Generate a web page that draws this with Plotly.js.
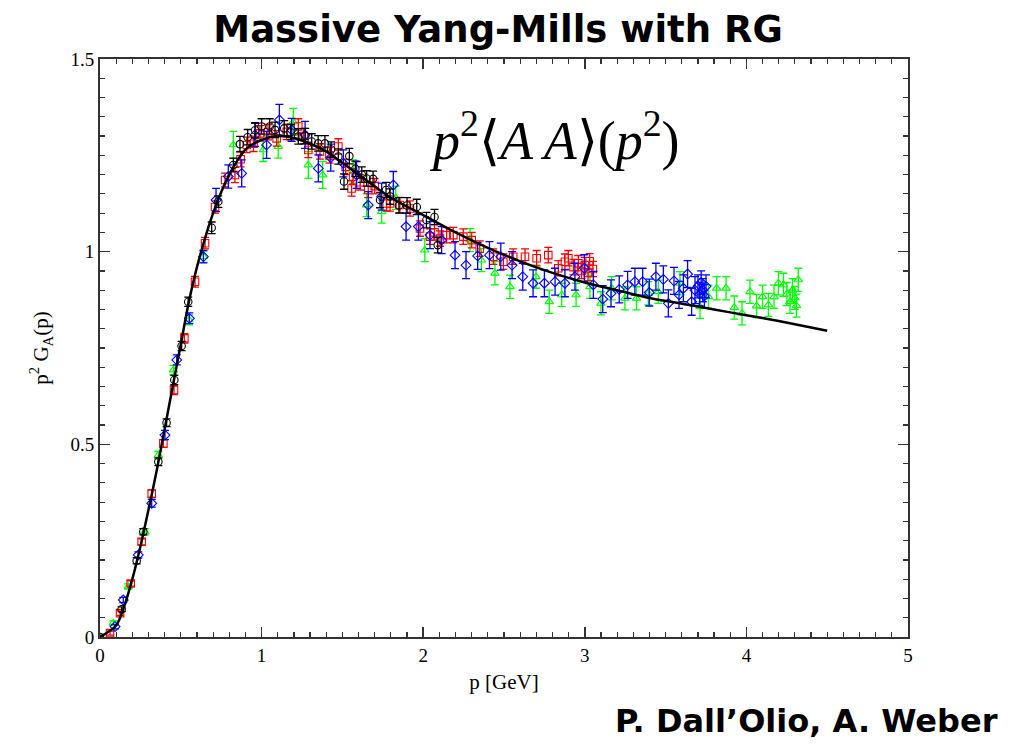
<!DOCTYPE html>
<html>
<head>
<meta charset="utf-8">
<script src="https://cdn.plot.ly/plotly-3.0.1.min.js"></script>
<style>html,body{margin:0;padding:0;background:#fff;}#chart{width:1027px;height:744px;}</style>
</head>
<body>
<div id="chart"></div>
<script>
// Black circles
const blackX = [0.0,0.134,0.227,0.268,0.361,0.412,0.46,0.505,0.546,0.691,0.732,0.825,0.866,0.914,0.96,1.0,1.05,1.083,1.14,1.18,1.227,1.27,1.31,1.35,1.392,1.43,1.475,1.51,1.543,1.58,1.62,1.65,1.69,1.733,1.77,1.795,1.85,1.9,1.96,2.02,2.07,2.09];
const blackY = [0.0,0.072,0.198,0.273,0.455,0.556,0.667,0.755,0.87,1.062,1.13,1.225,1.279,1.297,1.315,1.325,1.325,1.316,1.32,1.31,1.299,1.30,1.286,1.281,1.281,1.265,1.247,1.182,1.248,1.215,1.20,1.19,1.189,1.134,1.16,1.143,1.12,1.12,1.116,1.082,1.09,1.017];
const blackErr = [0.005,0.006,0.008,0.008,0.01,0.01,0.012,0.012,0.012,0.015,0.015,0.018,0.02,0.02,0.02,0.02,0.02,0.02,0.02,0.02,0.02,0.02,0.02,0.02,0.02,0.02,0.02,0.02,0.02,0.02,0.02,0.02,0.02,0.02,0.02,0.02,0.02,0.02,0.02,0.02,0.02,0.02];

// Red squares
const redX = [0.062,0.124,0.19,0.258,0.32,0.392,0.458,0.522,0.588,0.65,0.712,0.774,0.835,0.87,0.908,0.95,0.99,1.04,1.093,1.155,1.227,1.26,1.289,1.361,1.42,1.475,1.52,1.557,1.566,1.61,1.66,1.70,1.774,1.795,1.856,1.918,1.98,2.042,2.07,2.104,2.145,2.186,2.248,2.3,2.35,2.434,2.496,2.557,2.63,2.702,2.774,2.836,2.877,2.898,2.93,2.96,2.98,3.0,3.02,3.03,3.05];
const redY = [0.01,0.062,0.139,0.247,0.372,0.502,0.641,0.775,0.922,1.022,1.116,1.186,1.199,1.24,1.277,1.28,1.307,1.31,1.294,1.311,1.325,1.30,1.264,1.26,1.25,1.273,1.22,1.164,1.195,1.18,1.16,1.17,1.125,1.125,1.121,1.112,1.06,1.039,1.05,1.034,1.043,1.043,1.039,1.03,1.008,0.987,0.974,0.987,0.987,0.983,0.991,0.957,0.974,0.983,0.96,0.97,0.95,0.965,0.945,0.975,0.955];
const redErr = [0.005,0.006,0.007,0.008,0.01,0.01,0.012,0.012,0.014,0.015,0.016,0.018,0.02,0.02,0.02,0.02,0.02,0.02,0.02,0.02,0.02,0.02,0.02,0.02,0.02,0.02,0.02,0.02,0.02,0.02,0.02,0.02,0.02,0.02,0.02,0.02,0.02,0.02,0.02,0.02,0.02,0.02,0.02,0.02,0.02,0.02,0.02,0.02,0.02,0.02,0.02,0.02,0.02,0.02,0.02,0.02,0.02,0.02,0.02,0.02,0.02];

// Green triangles
const greenX = [0.082,0.175,0.278,0.361,0.454,0.551,0.64,0.825,1.01,1.103,1.196,1.289,1.378,1.567,1.65,1.743,1.83,2.01,2.29,2.36,2.444,2.537,2.698,2.78,2.857,2.946,3.032,3.1,3.166,3.248,3.32,3.393,3.455,3.589,3.713,3.765,3.816,3.874,3.925,3.973,4.022,4.063,4.1,4.136,4.171,4.198,4.229,4.25,4.27,4.285,4.30,4.31,4.321];
const greenY = [0.036,0.131,0.273,0.472,0.693,0.823,0.987,1.277,1.264,1.273,1.337,1.225,1.199,1.208,1.121,1.104,1.14,1.004,1.03,0.978,0.944,0.909,0.935,0.87,0.888,0.888,0.909,0.866,0.905,0.879,0.879,0.892,0.896,0.918,0.857,0.883,0.905,0.905,0.855,0.84,0.896,0.859,0.883,0.862,0.883,0.918,0.914,0.89,0.87,0.90,0.88,0.86,0.927];
const greenErr = [0.006,0.007,0.008,0.01,0.012,0.013,0.015,0.035,0.03,0.03,0.035,0.035,0.035,0.03,0.03,0.03,0.03,0.03,0.03,0.03,0.03,0.03,0.03,0.03,0.03,0.03,0.03,0.03,0.03,0.03,0.03,0.03,0.03,0.03,0.03,0.03,0.03,0.03,0.03,0.03,0.03,0.03,0.03,0.03,0.03,0.03,0.03,0.03,0.03,0.03,0.03,0.03,0.03];

// Blue diamonds
const blueX = [0.093,0.144,0.237,0.32,0.402,0.475,0.553,0.64,0.718,0.794,0.877,0.959,1.031,1.11,1.186,1.269,1.351,1.428,1.506,1.588,1.66,1.743,1.815,1.894,1.97,2.042,2.114,2.197,2.265,2.337,2.41,2.48,2.55,2.616,2.68,2.75,2.816,2.877,2.939,2.997,3.053,3.111,3.162,3.213,3.265,3.31,3.358,3.399,3.44,3.486,3.517,3.552,3.583,3.61,3.636,3.661,3.682,3.70,3.71,3.72,3.73,3.74,3.75];
const blueY = [0.027,0.096,0.213,0.347,0.524,0.719,0.827,0.987,1.134,1.195,1.203,1.303,1.277,1.342,1.316,1.303,1.216,1.244,1.229,1.199,1.121,1.143,1.173,1.065,1.065,1.043,1.03,0.991,0.965,0.989,0.991,0.987,0.965,0.935,0.918,0.918,0.922,0.918,0.935,0.957,0.914,0.877,0.892,0.902,0.914,0.922,0.922,0.894,0.935,0.928,0.866,0.924,0.888,0.905,0.942,0.87,0.90,0.91,0.89,0.92,0.90,0.885,0.91];
const blueErr = [0.006,0.007,0.008,0.01,0.012,0.013,0.014,0.016,0.03,0.03,0.035,0.03,0.035,0.04,0.03,0.035,0.035,0.035,0.035,0.035,0.035,0.035,0.035,0.035,0.035,0.035,0.035,0.035,0.035,0.035,0.035,0.035,0.035,0.035,0.035,0.035,0.035,0.035,0.035,0.035,0.035,0.035,0.035,0.035,0.035,0.035,0.035,0.035,0.035,0.035,0.035,0.035,0.035,0.035,0.035,0.035,0.035,0.03,0.03,0.03,0.03,0.03,0.03];

// Fit curve
const fitX = [0,0.1,0.15,0.2,0.25,0.3,0.35,0.4,0.45,0.5,0.55,0.6,0.7,0.8,0.9,1.0,1.1,1.2,1.3,1.4,1.6,1.8,2.0,2.2,2.4,2.6,2.8,3.0,3.2,3.4,3.6,3.8,4.0,4.2,4.5];
const fitY = [0,0.03,0.08,0.15,0.235,0.33,0.43,0.54,0.65,0.76,0.87,0.96,1.10,1.20,1.265,1.29,1.30,1.295,1.28,1.26,1.20,1.14,1.095,1.05,1.01,0.975,0.945,0.92,0.90,0.88,0.865,0.85,0.835,0.82,0.795];

const xTicks = [0,1,2,3,4,5];
const yTicks = [0,0.5,1,1.5];
const yTickText = ['0','0.5','1','1.5'];

function series(x, y, err, color, symbol) {
  return {
    x: x, y: y, type: 'scatter', mode: 'markers',
    marker: {symbol: symbol, size: 7.5, color: color, line: {color: color, width: 1.1}},
    error_y: {type: 'data', array: err, visible: true, color: color, thickness: 1.3, width: 4},
    showlegend: false, hoverinfo: 'skip'
  };
}

const traces = [
  series(greenX, greenY, greenErr, '#00ff00', 'triangle-up-open'),
  series(redX, redY, redErr, '#ff0000', 'square-open'),
  series(blueX, blueY, blueErr, '#0000ff', 'diamond-open'),
  series(blackX, blackY, blackErr, '#000000', 'circle-open'),
  {x: fitX, y: fitY, type: 'scatter', mode: 'lines', line: {color: '#000', width: 2.5, shape: 'spline', smoothing: 0.8}, showlegend: false, hoverinfo: 'skip'}
];

const serif = 'Liberation Serif, Times New Roman, serif';
const axisCommon = {
  showline: true, linecolor: '#333', linewidth: 2, mirror: 'ticks',
  ticks: 'inside', ticklen: 10, tickwidth: 1.5, tickcolor: '#333',
  showgrid: false, zeroline: false,
  tickfont: {family: serif, size: 19, color: '#000'}
};

const layout = {
  width: 1027, height: 744,
  margin: {l: 100, r: 119, t: 59, b: 107},
  paper_bgcolor: '#fff', plot_bgcolor: '#fff',
  title: {text: '<b>Massive Yang-Mills with RG</b>', font: {family: 'DejaVu Sans, sans-serif', size: 37, color: '#000'}, x: 0.485, xanchor: 'center', y: 1 - 29/744, yanchor: 'middle'},
  xaxis: Object.assign({}, axisCommon, {
    range: [0, 5], tickvals: xTicks, ticktext: xTicks.map(String),
    minor: {dtick: 0.1, tick0: 0, ticks: 'inside', ticklen: 5, tickwidth: 1.2, tickcolor: '#333'},
    title: {text: 'p [GeV]', font: {family: serif, size: 21, color: '#000'}, standoff: 10}
  }),
  yaxis: Object.assign({}, axisCommon, {
    range: [0, 1.5], tickvals: yTicks, ticktext: yTickText,
    minor: {dtick: 0.05, tick0: 0, ticks: 'inside', ticklen: 5, tickwidth: 1.2, tickcolor: '#333'},
    title: {text: 'p<sup>2</sup> G<sub>A</sub>(p)', font: {family: serif, size: 21, color: '#000'}, standoff: 16}
  }),
  annotations: [
    {xref: 'x', yref: 'y', x: 2.81, y: 1.30, xanchor: 'center', yanchor: 'middle', showarrow: false,
     text: '<i>p</i><sup>2</sup>⟨<i>A</i>\u2009<i>A</i>⟩(<i>p</i><sup>2</sup>)', font: {family: serif, size: 54, color: '#000'}},
    {xref: 'paper', yref: 'paper', x: (1000-100)/808, y: (637-721)/578, xanchor: 'right', yanchor: 'middle', showarrow: false,
     text: '<b>P. Dall’Olio, A. Weber</b>', font: {family: 'DejaVu Sans, sans-serif', size: 32, color: '#000'}}
  ]
};

Plotly.newPlot('chart', traces, layout, {staticPlot: true, displayModeBar: false});
</script>
</body>
</html>
